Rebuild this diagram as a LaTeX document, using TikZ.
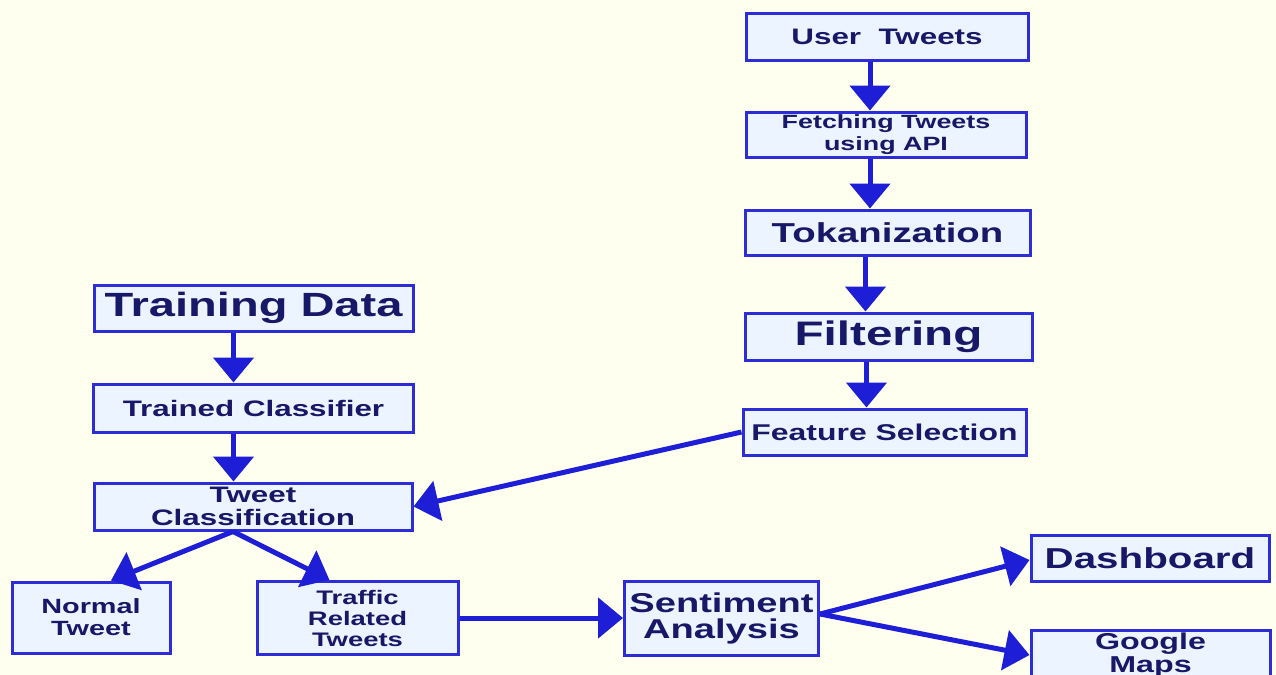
\documentclass[tikz,border=0pt]{standalone}
\usepackage{fontspec}
\setmainfont{Liberation Sans}[FakeStretch=1.4]
\usetikzlibrary{arrows.meta}
\definecolor{paper}{RGB}{255,255,240}
\definecolor{boxfill}{RGB}{236,245,255}
\definecolor{boxline}{RGB}{45,45,215}
\definecolor{arrowblue}{RGB}{30,30,215}
\definecolor{ink}{RGB}{24,24,105}
\tikzset{
  stage/.style={draw=boxline, line width=1.5pt, fill=boxfill, text=ink,
    align=center, inner sep=0pt, font=\bfseries},
  flow/.style={draw=arrowblue, line width=2.5pt,
    -{Triangle[width=20pt,length=12.5pt]}, arrowblue},
}
\newcommand{\fs}[2]{\fontsize{#1}{#2}\selectfont}
\begin{document}
\begin{tikzpicture}[x=0.5pt,y=-0.5pt]
\clip (0,0) rectangle (1276,675);
\fill[paper] (0,0) rectangle (1276,675);
\useasboundingbox (0,0) rectangle (1276,675);

% right column: tweet processing
\node[stage, minimum width=141pt, minimum height=23.5pt, font=\bfseries\fs{11.2}{12}] (ut) at (887,36.5) {User\ \ Tweets};
\node[stage, minimum width=140pt, minimum height=22.5pt, font=\bfseries\fs{9.6}{11}] (fe) at (886,134.5) {Fetching Tweets\\using API};
\node[stage, minimum width=142.5pt, minimum height=22.5pt, font=\bfseries\fs{13.7}{14}] (tok) at (887.5,232.5) {Tokanization};
\node[stage, minimum width=143.5pt, minimum height=23.5pt, font=\bfseries\fs{17}{18}] (fil) at (888.5,336.5) {Filtering};
\node[stage, minimum width=141.5pt, minimum height=23pt, font=\bfseries\fs{11.4}{12}] (fsel) at (884.5,432) {Feature Selection};

% left column: classifier
\node[stage, minimum width=159.5pt, minimum height=23pt, font=\bfseries\fs{16.8}{18}] (td) at (253.5,308) {Training Data};
\node[stage, minimum width=160pt, minimum height=24pt, font=\bfseries\fs{11.2}{12}] (tc) at (253.5,408) {Trained Classifier};
\node[stage, minimum width=159pt, minimum height=23.5pt, font=\bfseries\fs{11.2}{11.5}] (tw) at (253,506.5) {Tweet\\Classification};

% bottom row
\node[stage, minimum width=79pt, minimum height=35.5pt, font=\bfseries\fs{10.3}{11}] (nt) at (91,617.5) {Normal\\Tweet};
\node[stage, minimum width=100.5pt, minimum height=36.5pt, font=\bfseries\fs{9.8}{10.5}] (tr) at (357.5,618) {Traffic\\Related\\Tweets};
\node[stage, minimum width=97pt, minimum height=37pt, font=\bfseries\fs{13.6}{13}] (sa) at (721.5,618) {Sentiment\\Analysis};
\node[stage, minimum width=119pt, minimum height=23pt, font=\bfseries\fs{14.4}{15}] (db) at (1150,558) {Dashboard};
\node[stage, minimum width=119.5pt, minimum height=25pt, font=\bfseries\fs{11.5}{11.5}] (gm) at (1150.5,655) {Google\\Maps};

% connectors
\draw[flow] ([xshift=-8.5pt]ut.south) coordinate (a1) -- (a1 |- fe.north);
\draw[flow] ([xshift=-8pt]fe.south) coordinate (a2) -- (a2 |- tok.north);
\draw[flow] ([xshift=-11pt]tok.south) coordinate (a3) -- (a3 |- fil.north);
\draw[flow] ([xshift=-11pt]fil.south) coordinate (a4) -- (a4 |- fsel.north);
\draw[flow] ([xshift=-10pt]td.south) coordinate (a5) -- (a5 |- tc.north);
\draw[flow] ([xshift=-10pt]tc.south) coordinate (a6) -- (a6 |- tw.north);
\draw[flow] (fsel.west) -- (tw.east);
\draw[flow] ([xshift=-10pt]tw.south) -- ([xshift=10pt]nt.north);
\draw[flow] ([xshift=-10pt]tw.south) -- ([xshift=-14pt]tr.north);
\draw[flow] (tr.east) -- (tr.east -| sa.west);
\draw[flow] ([yshift=2pt]sa.east) -- ([yshift=-1pt]db.west);
\draw[flow] ([yshift=2pt]sa.east) -- (gm.west);
\end{tikzpicture}
\end{document}
